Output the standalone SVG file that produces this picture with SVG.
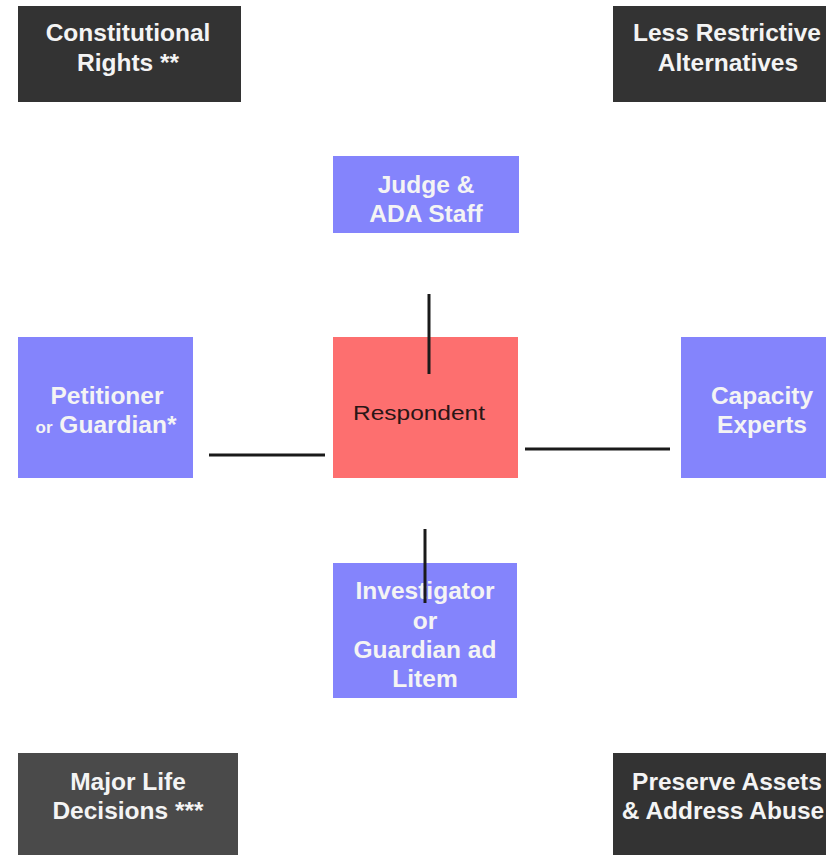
<svg xmlns="http://www.w3.org/2000/svg" width="826" height="855" viewBox="0 0 826 855">
<style>
.dark{fill:#333333}
.mid{fill:#4a4a4a}
.blue{fill:#8484fc}
.red{fill:#fd6f6f}
.t{font-family:"Liberation Sans",Arial,sans-serif;font-weight:bold;font-size:24.5px;fill:#f4f4f4;text-anchor:middle}
.s{font-size:17px}
.r{font-family:"Liberation Sans",Arial,sans-serif;font-size:21px;fill:#2a1616;text-anchor:middle}
.c{stroke:#1a1a1a;stroke-width:3;fill:none}
</style>
<rect width="826" height="855" fill="#ffffff"/>
<g id="constitutional-rights">
<rect class="dark" x="18" y="6" width="223" height="96"/>
<text class="t" x="128" y="41">Constitutional</text>
<text class="t" x="128" y="71">Rights **</text>
</g>
<g id="less-restrictive">
<rect class="dark" x="613" y="6" width="213" height="96"/>
<text class="t" x="727" y="41">Less Restrictive</text>
<text class="t" x="728" y="71">Alternatives</text>
</g>
<g id="judge">
<rect class="blue" x="333" y="156" width="186" height="77"/>
<text class="t" x="426" y="193">Judge &amp;</text>
<text class="t" x="426" y="222">ADA Staff</text>
</g>
<g id="petitioner">
<rect class="blue" x="18" y="337" width="175" height="141"/>
<text class="t" x="107" y="404">Petitioner</text>
<text class="t" x="106" y="433"><tspan class="s">or</tspan> Guardian*</text>
</g>
<g id="respondent">
<rect class="red" x="333" y="337" width="185" height="141"/>
<text class="r" x="419" y="420" textLength="132" lengthAdjust="spacingAndGlyphs">Respondent</text>
</g>
<g id="capacity">
<rect class="blue" x="681" y="337" width="145" height="141"/>
<text class="t" x="762" y="404">Capacity</text>
<text class="t" x="762" y="433">Experts</text>
</g>
<g id="investigator">
<rect class="blue" x="333" y="563" width="184" height="135"/>
<text class="t" x="425" y="599">Investigator</text>
<text class="t" x="425" y="629">or</text>
<text class="t" x="425" y="658">Guardian ad</text>
<text class="t" x="425" y="687">Litem</text>
</g>
<g id="major-life">
<rect class="mid" x="18" y="753" width="220" height="102"/>
<text class="t" x="128" y="790">Major Life</text>
<text class="t" x="128" y="819">Decisions ***</text>
</g>
<g id="preserve-assets">
<rect class="dark" x="613" y="753" width="213" height="102"/>
<text class="t" x="727" y="790">Preserve Assets</text>
<text class="t" x="723" y="819">&amp; Address Abuse</text>
</g>
<g id="connectors">
<line class="c" x1="429" y1="294" x2="429" y2="374"/>
<line class="c" x1="209" y1="455" x2="325" y2="455"/>
<line class="c" x1="525" y1="449" x2="670" y2="449"/>
<line class="c" x1="425" y1="529" x2="425" y2="603"/>
</g>
</svg>
